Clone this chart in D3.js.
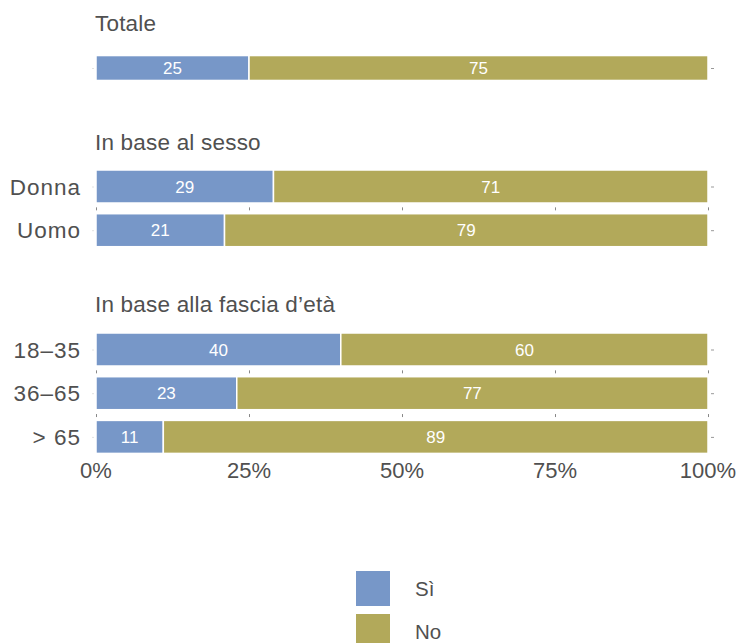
<!DOCTYPE html>
<html>
<head>
<meta charset="utf-8">
<script src="https://cdn.jsdelivr.net/npm/d3@7/dist/d3.min.js"></script>
<style>
  html, body { margin: 0; padding: 0; background: #fff; }
  svg { display: block; font-family: "Liberation Sans", Arial, sans-serif; }
</style>
</head>
<body>
<svg id="chart" width="739" height="643"></svg>
<script>
// Survey answers (percent) by group
const groups = ["Totale", "In base al sesso", "In base alla fascia d\u2019et\u00e0"];
const categories = [
  ["Totale"],
  ["Donna", "Uomo"],
  ["18\u201335", "36\u201365", "> 65"]
];
const siValues = [[25], [29, 21], [40, 23, 11]];
const noValues = [[75], [71, 79], [60, 77, 89]];
const seriesNames = ["S\u00ec", "No"];
const tickValues = [0, 25, 50, 75, 100];

const colors = { "S\u00ec": "#7797c8", "No": "#b2a95a" };
const textColor = "#505050";

const svg = d3.select("#chart");

const x = d3.scaleLinear().domain([0, 100]).range([96, 708]);

// vertical layout of each facet: title baseline and first bar top
const groupTop = [51.5, 170, 333];
const titleBaseline = [31, 150, 312];
const step = 43.7;
const barH = 33;

groups.forEach((g, gi) => {
  const cats = categories[gi];
  const y = d3.scaleBand()
    .domain(cats)
    .range([groupTop[gi], groupTop[gi] + step * cats.length - (step - barH)])
    .paddingInner((step - barH) / step)
    .paddingOuter(0);

  const gEl = svg.append("g");

  gEl.append("text")
    .attr("x", 95)
    .attr("y", titleBaseline[gi])
    .attr("font-size", 22.5)
    .attr("letter-spacing", 0.2)
    .attr("fill", textColor)
    .text(g);

  // small ticks between stacked rows
  cats.forEach((c, ci) => {
    if (ci === 0) return;
    const yy = y(c) - (step - y.bandwidth()) / 2;
    gEl.append("g")
      .attr("transform", `translate(0,${yy + 2})`)
      .call(d3.axisTop(x).tickValues(tickValues).tickSize(3).tickFormat(""))
      .call(a => a.select(".domain").remove())
      .call(a => a.selectAll("line").attr("stroke", "#888").attr("stroke-width", 1));
  });

  cats.forEach((c, ci) => {
    const si = siValues[gi][ci];
    const no = noValues[gi][ci];
    const segs = [
      { name: seriesNames[0], x0: 0, x1: si, v: si },
      { name: seriesNames[1], x0: si, x1: si + no, v: no }
    ];
    const yc = y(c) + y.bandwidth() / 2;

    // faint end ticks
    gEl.append("line")
      .attr("x1", 711).attr("x2", 714)
      .attr("y1", yc + 0.5).attr("y2", yc + 0.5)
      .attr("stroke", "#999").attr("stroke-width", 1);
    gEl.append("line")
      .attr("x1", 92).attr("x2", 94)
      .attr("y1", yc + 0.5).attr("y2", yc + 0.5)
      .attr("stroke", "#e2e2e2").attr("stroke-width", 1);

    gEl.selectAll(null)
      .data(segs)
      .enter()
      .append("rect")
      .attr("x", d => x(d.x0))
      .attr("y", y(c))
      .attr("width", d => x(d.x1) - x(d.x0))
      .attr("height", y.bandwidth())
      .attr("fill", d => colors[d.name])
      .attr("stroke", "#fff")
      .attr("stroke-width", 1.5);

    gEl.selectAll(null)
      .data(segs)
      .enter()
      .append("text")
      .attr("x", d => (x(d.x0) + x(d.x1)) / 2)
      .attr("y", yc)
      .attr("dy", "0.36em")
      .attr("text-anchor", "middle")
      .attr("font-size", 17)
      .attr("fill", "#fff")
      .text(d => d.v);

    if (gi > 0) {
      gEl.append("text")
        .attr("x", 81)
        .attr("y", yc)
        .attr("dy", "0.36em")
        .attr("text-anchor", "end")
        .attr("font-size", 22.5)
        .attr("letter-spacing", 1)
        .attr("fill", textColor)
        .text(c);
    }
  });
});

// bottom percentage axis
svg.append("g")
  .attr("transform", "translate(0,477.5)")
  .selectAll("text")
  .data(tickValues)
  .enter()
  .append("text")
  .attr("x", d => x(d))
  .attr("text-anchor", "middle")
  .attr("font-size", 22)
  .attr("fill", textColor)
  .text(d => d + "%");

// legend
const legend = svg.append("g").attr("transform", "translate(356,571)");
seriesNames.forEach((s, i) => {
  legend.append("rect")
    .attr("x", 0).attr("y", i * 43)
    .attr("width", 34).attr("height", 35)
    .attr("fill", colors[s]);
  legend.append("text")
    .attr("x", 59).attr("y", i * 43 + 17.5)
    .attr("dy", "0.36em")
    .attr("font-size", 20.5)
    .attr("fill", textColor)
    .text(s);
});
</script>
</body>
</html>
